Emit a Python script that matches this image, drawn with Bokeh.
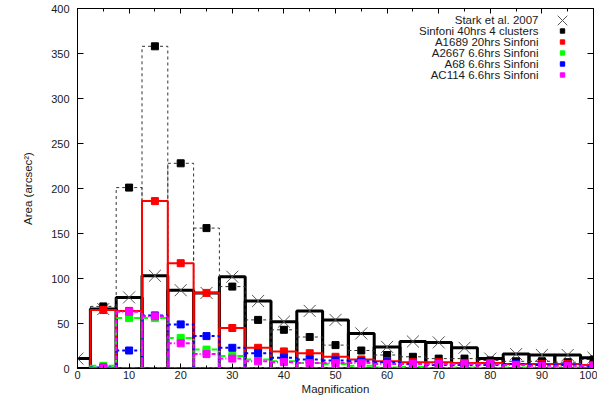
import numpy as np
from bokeh.plotting import figure
from bokeh.models import (LinearAxis, SingleIntervalTicker, Range1d, Legend,
                          LegendItem, Label)
from bokeh.embed import file_html
from bokeh.resources import INLINE

# ---------------- data ----------------
bin_width = 5
centers_all = list(range(0, 101, 5))      # Stark et al. 2007 bins
centers = list(range(5, 101, 5))          # Sinfoni bins

stark = [11, 66, 79, 103, 87, 84, 102, 75, 52, 64, 54, 39, 24, 30, 29, 23, 11, 16, 15, 15, 12]
sinfoni40 = [69, 201, 358, 228, 156, 91, 54, 43, 35, 26, 20, 15, 13, 11, 11, 9, 8, 8, 7, 10]
a1689 = [65, 64, 186, 117, 84, 45, 23, 19, 17, 13, 10, 8, 7, 7, 6, 6, 5, 5, 5, 4]
a2667 = [3, 56, 56, 34, 21, 14, 10, 8, 6, 5, 3, 1, 2, 0.5, 1, 0.5, 1, 0.5, 1, 0.5]
a68 = [1, 20, 59, 49, 36, 23, 17, 12, 10, 9, 8, 7, 5, 4, 4, 4, 5, 4, 4, 2]
ac114 = [0.5, 63, 58, 28, 16, 11, 8, 7, 6, 6, 6, 5, 5, 5, 5, 5, 4, 3, 3, 3]

legend_labels = ["Stark et al. 2007", "Sinfoni 40hrs 4 clusters", "A1689 20hrs Sinfoni",
                 "A2667 6.6hrs Sinfoni", "A68 6.6hrs Sinfoni", "AC114 6.6hrs Sinfoni"]

x_ticks_interval = 10
y_ticks_interval = 50

FONT = "Liberation Sans"
TXT = "#1a1a1a"

# ---------------- figure ----------------
W, H_FIG = 597, 397
TOP, BOTTOM = 8, 29
H = H_FIG - TOP - BOTTOM   # frame height (approx)

p = figure(width=W, height=H_FIG, output_backend="svg", toolbar_location=None,
           x_range=Range1d(0, 100), y_range=Range1d(0, 400),
           min_border_left=77, min_border_right=4, min_border_top=TOP,
           min_border_bottom=BOTTOM, x_axis_type=None, y_axis_type=None)
p.grid.visible = False
p.outline_line_color = "black"
p.outline_line_width = 1
p.background_fill_color = "white"
p.border_fill_color = "white"


def style_axis(ax, interval, minor, labels=True, tick_len=5):
    ax.ticker = SingleIntervalTicker(interval=interval, num_minor_ticks=minor)
    ax.major_tick_in = tick_len
    ax.major_tick_out = 0
    ax.minor_tick_in = 3
    ax.minor_tick_out = 0
    ax.axis_line_color = "black"
    ax.major_tick_line_color = "black"
    ax.minor_tick_line_color = "black" if minor else None
    if labels:
        ax.major_label_text_font = FONT
        ax.major_label_text_font_size = "11px"
        ax.major_label_text_color = TXT
        ax.axis_label_text_font = FONT
        ax.axis_label_text_font_size = "11.5px"
        ax.axis_label_text_font_style = "normal"
        ax.axis_label_text_color = TXT
    else:
        ax.major_label_text_font_size = "0px"
        ax.major_label_text_color = None
        ax.major_label_standoff = 0


xb = LinearAxis(axis_label="Magnification")
style_axis(xb, x_ticks_interval, 2)
xb.major_label_standoff = 2
xb.axis_label_standoff = 1
p.add_layout(xb, "below")

xt = LinearAxis()
style_axis(xt, x_ticks_interval, 2, labels=False)
p.add_layout(xt, "above")

yl = LinearAxis(axis_label="Area (arcsec²)")
style_axis(yl, y_ticks_interval, 0, tick_len=6)
yl.major_label_standoff = 8
yl.axis_label_standoff = 14
p.add_layout(yl, "left")

yr = LinearAxis()
style_axis(yr, y_ticks_interval, 0, labels=False, tick_len=6)
p.add_layout(yr, "right")

# ---------------- boxes ----------------
def boxes(cs, vals, **kw):
    c = np.array(cs, dtype=float)
    p.quad(left=c - bin_width / 2, right=c + bin_width / 2, bottom=0, top=vals,
           fill_color=None, **kw)


def points(cs, vals, **kw):
    return p.scatter(cs, vals, **kw)


markers = []
boxes(centers_all, stark, line_color="black", line_width=3)
markers.append(points(centers_all, stark, marker="x", size=17, line_color="#555555", line_width=1))

boxes(centers, sinfoni40, line_color="#333333", line_width=1, line_dash="3 3")
markers.append(points(centers, sinfoni40, marker="square", size=7, fill_color="black", line_color="black"))

boxes(centers, a1689, line_color="#ff0000", line_width=2)
markers.append(points(centers, a1689, marker="square", size=7, fill_color="#ff0000", line_color="#ff0000"))

boxes(centers, a2667, line_color="#00ff00", line_width=2, line_dash="6 3")
markers.append(points(centers, a2667, marker="square", size=7, fill_color="#00ff00", line_color="#00ff00"))

boxes(centers, a68, line_color="#0000ff", line_width=2, line_dash="3 3")
markers.append(points(centers, a68, marker="square", size=7, fill_color="#0000ff", line_color="#0000ff"))

boxes(centers, ac114, line_color="#ff00ff", line_width=2, line_dash="4 2 1 2")
markers.append(points(centers, ac114, marker="square", size=7, fill_color="#ff00ff", line_color="#ff00ff"))

# ---------------- legend (gnuplot style: text right-aligned, marker at right) ----------------
ROW = 11
LEG_TOP = 6
GLYPH_CX = 485           # legend glyph centre, px from frame left
n = len(legend_labels)
common = dict(orientation="vertical", padding=0, margin=0, spacing=0,
              label_width=0, label_standoff=0, label_text_font_size="1px",
              label_text_color=None, background_fill_alpha=0, border_line_alpha=0)

# Stark row: larger glyph box so that the cross is drawn at full size
BIG = 34
row0_cy = H - LEG_TOP - ROW / 2
leg0 = Legend(items=[LegendItem(label=" ", renderers=[markers[0]])],
              location=(GLYPH_CX - BIG / 2, row0_cy - BIG / 2),
              glyph_width=BIG, glyph_height=BIG, label_height=BIG, **common)
p.add_layout(leg0)

leg = Legend(items=[LegendItem(label=" ", renderers=[r]) for r in markers[1:]],
             location=(GLYPH_CX - 7, H - LEG_TOP - n * ROW),
             glyph_width=14, glyph_height=ROW, label_height=ROW, **common)
p.add_layout(leg)

for i, lab in enumerate(legend_labels):
    p.add_layout(Label(x=461, y=H - LEG_TOP - ROW / 2 - i * ROW, x_units="screen",
                       y_units="screen", text=lab, text_align="right",
                       text_baseline="middle", text_font=FONT,
                       text_font_size="11.5px", text_color=TXT))

open("out.html", "w").write(file_html(p, INLINE))
